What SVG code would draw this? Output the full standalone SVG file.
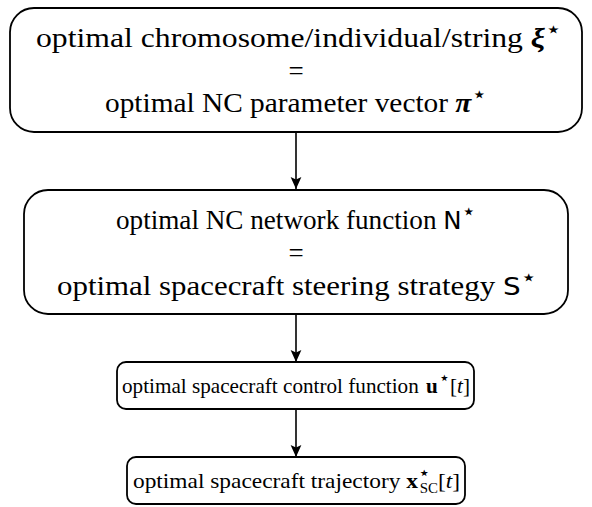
<svg xmlns="http://www.w3.org/2000/svg" width="592" height="507" viewBox="0 0 592 507">
<style>
.box{fill:#fff;stroke:#000;stroke-width:1.8}
.t{font-family:"Liberation Serif","DejaVu Serif",serif;fill:#000}
.L{font-size:27px}
.S{font-size:22px}
.c{text-anchor:middle}
.bi{font-weight:bold;font-style:italic}
.b{font-weight:bold}
.sf{font-family:"DejaVu Sans","Liberation Sans",sans-serif;font-size:0.9em}
.st{font-family:"DejaVu Sans",sans-serif;font-size:0.85em}
.it{font-style:italic}
.con{stroke:#000;stroke-width:1.6;fill:none}
</style>
<defs>
<marker id="ah" markerWidth="12" markerHeight="12" refX="10" refY="5" orient="auto" markerUnits="userSpaceOnUse" viewBox="0 0 10 10">
<path d="M0,0.5 L10,5 L0,9.5 L2,5 Z" fill="#000"/>
</marker>
</defs>
<g id="connectors">
<line class="con" x1="296" y1="133" x2="296" y2="189" marker-end="url(#ah)"/>
<line class="con" x1="296" y1="315" x2="296" y2="362" marker-end="url(#ah)"/>
<line class="con" x1="296" y1="410" x2="296" y2="457" marker-end="url(#ah)"/>
</g>
<g id="node1">
<rect class="box" x="10" y="8" width="572" height="124" rx="24" ry="24"/>
<text class="t L" x="36" y="47" textLength="526" lengthAdjust="spacingAndGlyphs">optimal chromosome/individual/string <tspan class="bi">ξ</tspan><tspan class="st" dy="-10">⋆</tspan></text>
<text class="t L c" x="296" y="80">=</text>
<text class="t L" x="105" y="112" textLength="382" lengthAdjust="spacingAndGlyphs">optimal NC parameter vector <tspan class="bi">π</tspan><tspan class="st" dy="-10">⋆</tspan></text>
</g>
<g id="node2">
<rect class="box" x="24" y="190" width="544" height="124" rx="24" ry="24"/>
<text class="t L" x="116" y="229" textLength="360" lengthAdjust="spacingAndGlyphs">optimal NC network function <tspan class="sf">N</tspan><tspan class="st" dy="-10">⋆</tspan></text>
<text class="t L c" x="296" y="262">=</text>
<text class="t L" x="57" y="295" textLength="480" lengthAdjust="spacingAndGlyphs">optimal spacecraft steering strategy <tspan class="sf">S</tspan><tspan class="st" dy="-10">⋆</tspan></text>
</g>
<g id="node3">
<rect class="box" x="117" y="362" width="357" height="47" rx="9" ry="9"/>
<text class="t S" x="122" y="393" textLength="348" lengthAdjust="spacingAndGlyphs">optimal spacecraft control function <tspan class="b" dx="2">u</tspan><tspan class="st" dx="1" dy="-9">⋆</tspan><tspan dy="9">[</tspan><tspan class="it">t</tspan>]</text>
</g>
<g id="node4">
<rect class="box" x="127" y="457" width="338" height="47" rx="9" ry="9"/>
<text class="t S" x="133" y="488" textLength="327" lengthAdjust="spacingAndGlyphs">optimal spacecraft trajectory <tspan class="b">x</tspan><tspan class="st" dy="-9">⋆</tspan><tspan font-size="14" dx="-10" dy="14">SC</tspan><tspan dy="-5">[</tspan><tspan class="it">t</tspan>]</text>
</g>
</svg>
